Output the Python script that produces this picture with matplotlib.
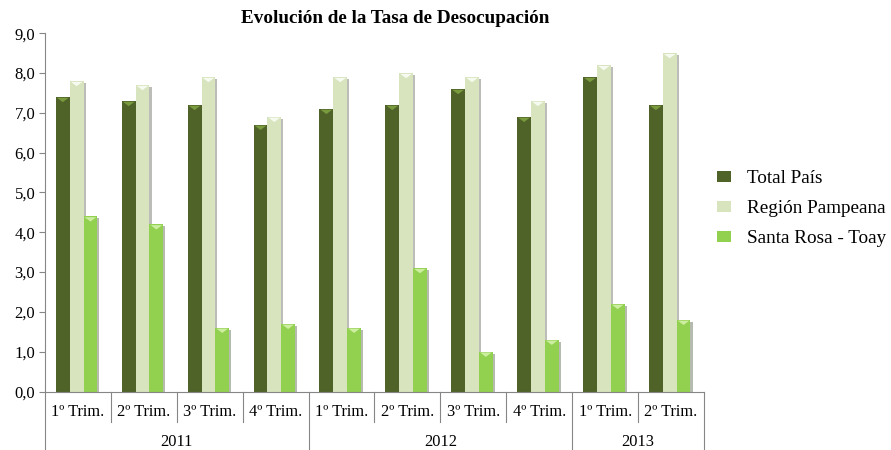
import numpy as np
import matplotlib.pyplot as plt
import matplotlib.patheffects as pe
from matplotlib.patches import Polygon, Patch

plt.rcParams['font.family'] = ['Liberation Serif', 'DejaVu Serif']

# Datos
trimestres = ['1º Trim.', '2º Trim.', '3º Trim.', '4º Trim.',
              '1º Trim.', '2º Trim.', '3º Trim.', '4º Trim.',
              '1º Trim.', '2º Trim.']
anios = ['2011', '2012', '2013']
trim_por_anio = [4, 4, 2]

total_pais = [7.4, 7.3, 7.2, 6.7, 7.1, 7.2, 7.6, 6.9, 7.9, 7.2]
region_pampeana = [7.8, 7.7, 7.9, 6.9, 7.9, 8.0, 7.9, 7.3, 8.2, 8.5]
santa_rosa = [4.4, 4.2, 1.6, 1.7, 1.6, 3.1, 1.0, 1.3, 2.2, 1.8]

series = [
    ('Total País', total_pais, '#4f6228', '#7a9a3e'),
    ('Región Pampeana', region_pampeana, '#d7e4bd', '#f7faf0'),
    ('Santa Rosa - Toay', santa_rosa, '#92d050', '#cdeea0'),
]

fig = plt.figure(figsize=(8.91, 4.5), dpi=100)
ax = fig.add_axes([0.0505, 0.13, 0.7396, 0.796])

x = np.arange(len(trimestres))
w = 0.21
offsets = [-w, 0, w]

for (nombre, vals, color, tri_color), off in zip(series, offsets):
    bars = ax.bar(x + off - 0.02, vals, width=w, color=color, edgecolor='none',
                  label=nombre, zorder=2)
    for b in bars:
        b.set_path_effects([pe.SimplePatchShadow(offset=(1.5, -1.5), alpha=0.35),
                            pe.Normal()])
    # triangulo claro en la parte superior (efecto bisel)
    for xi, v in zip(x + off - 0.02, vals):
        tri = Polygon([(xi - w * 0.42, v - 0.02), (xi + w * 0.42, v - 0.02),
                       (xi, v - 0.13)], closed=True, color=tri_color,
                      lw=0, zorder=3)
        ax.add_patch(tri)

ax.set_xlim(-0.5, len(trimestres) - 0.5)
ax.set_ylim(0, 9)
ax.set_yticks(np.arange(0, 10, 1))
ax.set_yticklabels([f'{v:.1f}'.replace('.', ',') for v in np.arange(0, 10, 1)],
                   fontsize=12)
ax.tick_params(axis='y', length=4, width=0.8, color='#868686', pad=3)
ax.set_xticks([])

for s in ['top', 'right']:
    ax.spines[s].set_visible(False)
for s in ['left', 'bottom']:
    ax.spines[s].set_color('#868686')
    ax.spines[s].set_linewidth(0.8)

# etiquetas de categorias en dos niveles
tr = ax.get_xaxis_transform()
lc = '#868686'
for i, lab in enumerate(trimestres):
    ax.text(i, -0.058, lab, transform=tr, ha='center', va='center',
            fontsize=11.8, clip_on=False)

limites = np.cumsum([0] + trim_por_anio) - 0.5
for i in range(len(trimestres) + 1):
    xi = i - 0.5
    y_fin = -0.165 if xi in limites else -0.085
    ax.plot([xi, xi], [0, y_fin], transform=tr, color=lc, lw=0.8,
            clip_on=False)

for a, ini, fin in zip(anios, limites[:-1], limites[1:]):
    ax.text((ini + fin) / 2, -0.142, a, transform=tr, ha='center',
            va='center', fontsize=11.8, clip_on=False)

fig.text(0.443, 0.958, 'Evolución de la Tasa de Desocupación',
         ha='center', va='center', fontsize=13.8, fontweight='bold')

handles = [Patch(facecolor=c, edgecolor='none') for _, _, c, _ in series]
ax.legend(handles, [n for n, _, _, _ in series], loc='upper left',
          bbox_to_anchor=(0.805, 0.622), bbox_transform=fig.transFigure,
          frameon=False, fontsize=13.8, handlelength=0.72, handleheight=0.5,
          handletextpad=0.85, labelspacing=0.68, borderpad=0, borderaxespad=0)

fig.savefig('out.png', dpi=100)
